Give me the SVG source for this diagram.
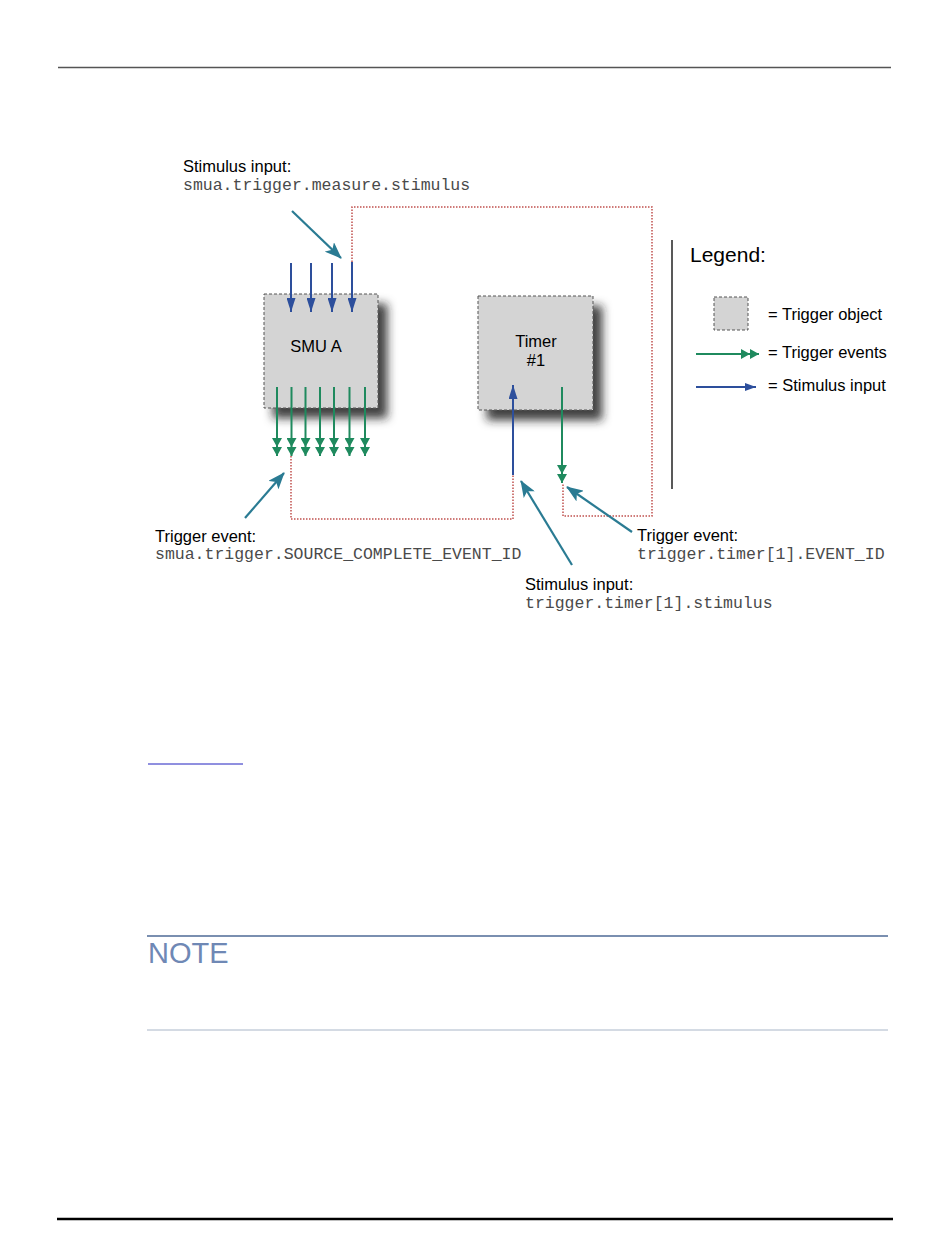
<svg xmlns="http://www.w3.org/2000/svg" width="950" height="1248" viewBox="0 0 950 1248">
<style>
.sans{font-family:"Liberation Sans",Arial,sans-serif;fill:#000}
.mono{font-family:"Liberation Mono","Courier New",monospace;fill:#4a4a4a}
.box{fill:#d4d4d4;stroke:#555;stroke-width:1;stroke-dasharray:3,2}
.blue{stroke:#2d4f9c;stroke-width:2;fill:none}
.green{stroke:#1f8a5e;stroke-width:2;fill:none}
.red{stroke:#c0504d;stroke-width:1.5;stroke-dasharray:1.5,1.5;fill:none}
.teal{stroke:#2a7b93;stroke-width:2.2;fill:none}
</style>
<defs>
<filter id="sh" x="-20%" y="-20%" width="160%" height="160%">
<feDropShadow dx="9" dy="10" stdDeviation="5" flood-color="#1a1a1a" flood-opacity="0.85"/>
</filter>
<marker id="mb" viewBox="0 0 14 9" refX="14" refY="4.5" markerWidth="14" markerHeight="9" markerUnits="userSpaceOnUse" orient="auto">
<path d="M0,0 L14,4.5 L0,9 z" fill="#2d4f9c"/>
</marker>
<marker id="mbs" viewBox="0 0 11 8" refX="11" refY="4" markerWidth="11" markerHeight="8" markerUnits="userSpaceOnUse" orient="auto">
<path d="M0,0 L11,4 L0,8 z" fill="#2d4f9c"/>
</marker>
<marker id="mg" viewBox="0 0 18 10" refX="18" refY="5" markerWidth="18" markerHeight="10" markerUnits="userSpaceOnUse" orient="auto">
<path d="M0,0 L9,5 L0,10 z M9,0 L18,5 L9,10 z" fill="#1f8a5e"/>
</marker>
<marker id="mt" viewBox="0 0 17 13" refX="16" refY="6.5" markerWidth="17" markerHeight="13" markerUnits="userSpaceOnUse" orient="auto">
<path d="M0,0 L17,6.5 L0,13 L4,6.5 z" fill="#2a7b93"/>
</marker>
</defs>

<g id="page">
<line x1="58" y1="67.5" x2="891" y2="67.5" stroke="#555" stroke-width="1.5"/>
<line x1="57" y1="1219" x2="893" y2="1219" stroke="#000" stroke-width="2.5"/>
<line x1="148" y1="764" x2="243" y2="764" stroke="#2020c0" stroke-width="1"/>
<line x1="147" y1="936" x2="888" y2="936" stroke="#7a8fb0" stroke-width="2"/>
<text x="148" y="963" font-family="Liberation Sans, Arial, sans-serif" font-size="29" fill="#6f88b5">NOTE</text>
<line x1="147" y1="1030" x2="888" y2="1030" stroke="#a9b6c8" stroke-width="1"/>
</g>

<g id="smu-a">
<rect class="box" x="264" y="294" width="114" height="114" filter="url(#sh)"/>
<text class="sans" x="316" y="352" font-size="16.5" text-anchor="middle">SMU A</text>
</g>

<g id="timer-1">
<rect class="box" x="478" y="296" width="115" height="114" filter="url(#sh)"/>
<text class="sans" x="536" y="347" font-size="16.5" text-anchor="middle">Timer</text>
<text class="sans" x="536" y="366" font-size="16.5" text-anchor="middle">#1</text>
</g>

<g id="legend">
<line x1="672" y1="240" x2="672" y2="489" stroke="#222" stroke-width="1.5"/>
<text class="sans" x="690" y="262" font-size="21">Legend:</text>
<rect class="box" x="714" y="297" width="34" height="33"/>
<text class="sans" x="768" y="320" font-size="16.5">= Trigger object</text>
<line class="green" x1="696" y1="354" x2="759" y2="354" marker-end="url(#mg)"/>
<text class="sans" x="768" y="358" font-size="16.5">= Trigger events</text>
<line class="blue" x1="696" y1="387" x2="756" y2="387" marker-end="url(#mbs)"/>
<text class="sans" x="768" y="391" font-size="16.5">= Stimulus input</text>
</g>

<g id="labels">
<text class="sans" x="183" y="172" font-size="16.5">Stimulus input:</text>
<text class="mono" x="183" y="190" font-size="16.5">smua.trigger.measure.stimulus</text>
<text class="sans" x="155" y="542" font-size="16.5">Trigger event:</text>
<text class="mono" x="155" y="559" font-size="16.5">smua.trigger.SOURCE_COMPLETE_EVENT_ID</text>
<text class="sans" x="637" y="541" font-size="16.5">Trigger event:</text>
<text class="mono" x="637" y="559" font-size="16.5">trigger.timer[1].EVENT_ID</text>
<text class="sans" x="525" y="590" font-size="16.5">Stimulus input:</text>
<text class="mono" x="525" y="608" font-size="16.5">trigger.timer[1].stimulus</text>
</g>

<g id="connectors">
<polyline class="red" points="352,262 352,207 652,207 652,516 563,516 563,484"/>
<polyline class="red" points="291,456 291,519 513,519 513,475"/>
<line class="blue" x1="291" y1="263" x2="291" y2="312" marker-end="url(#mb)"/>
<line class="blue" x1="311" y1="263" x2="311" y2="312" marker-end="url(#mb)"/>
<line class="blue" x1="332" y1="263" x2="332" y2="312" marker-end="url(#mb)"/>
<line class="blue" x1="352" y1="262" x2="352" y2="312" marker-end="url(#mb)"/>
<line class="green" x1="277" y1="387" x2="277" y2="456" marker-end="url(#mg)"/>
<line class="green" x1="291.5" y1="387" x2="291.5" y2="456" marker-end="url(#mg)"/>
<line class="green" x1="305.5" y1="387" x2="305.5" y2="456" marker-end="url(#mg)"/>
<line class="green" x1="320" y1="387" x2="320" y2="456" marker-end="url(#mg)"/>
<line class="green" x1="334" y1="387" x2="334" y2="456" marker-end="url(#mg)"/>
<line class="green" x1="349.5" y1="387" x2="349.5" y2="456" marker-end="url(#mg)"/>
<line class="green" x1="365" y1="387" x2="365" y2="456" marker-end="url(#mg)"/>
<line class="blue" x1="513" y1="475" x2="513" y2="385" marker-end="url(#mb)"/>
<line class="green" x1="562" y1="387" x2="562" y2="483" marker-end="url(#mg)"/>
<line class="teal" x1="292" y1="211" x2="341" y2="258" marker-end="url(#mt)"/>
<line class="teal" x1="245" y1="518" x2="284" y2="473" marker-end="url(#mt)"/>
<line class="teal" x1="572" y1="565" x2="521" y2="481" marker-end="url(#mt)"/>
<line class="teal" x1="632" y1="532" x2="567" y2="487" marker-end="url(#mt)"/>
</g>
</svg>
